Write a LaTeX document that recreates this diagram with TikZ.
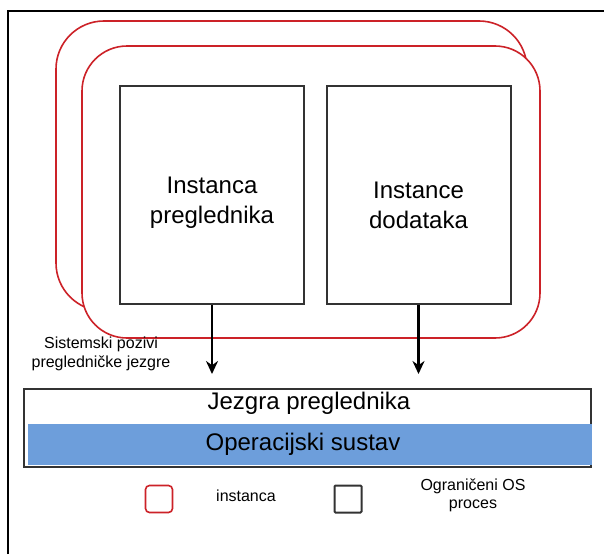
\documentclass[tikz,border=0pt]{standalone}
\usepackage{fontspec}
\setmainfont{Liberation Sans}
\usetikzlibrary{arrows.meta}
\definecolor{instred}{RGB}{204,34,40}
\definecolor{osblue}{RGB}{109,158,219}
\definecolor{procgray}{RGB}{51,51,51}

\begin{document}
\begin{tikzpicture}[x=1pt,y=-1pt,
    instbox/.style={draw=instred, line width=1.6pt},
    procbox/.style={draw=procgray, line width=2pt, minimum width=184pt, minimum height=218pt, inner sep=0pt},
    bigtext/.style={align=center, font=\fontsize{24}{30}\selectfont},
    callarrow/.style={line width=2.6pt, -{Stealth[length=13pt,width=12pt]}, shorten >=14pt},
    smalltext/.style={align=center, font=\fontsize{16}{19}\selectfont}]
    \useasboundingbox (0,0) rectangle (604,554);
    \draw[line width=2.2pt] (8,554) -- (8,11) -- (604,11);
    \draw[instbox, rounded corners=48pt] (56,21) rectangle (527,311);
    \draw[instbox, fill=white, rounded corners=45pt] (82,46) rectangle (540,338);
    \node[procbox] (browser) at (212,195) {};
    \node[procbox] (plugins) at (418.5,195) {};
    \node[bigtext, yshift=-8pt] (browsertext) at (browser) {Instanca\\preglednika};
    \node[bigtext, yshift=-10pt] (pluginstext) at (plugins) {Instance\\dodataka};
    \node[draw=procgray, line width=2pt, minimum width=567pt, minimum height=78pt, inner sep=0pt] (kernel) at (307.5,428) {};
    \node[fill=osblue, minimum width=564pt, minimum height=41pt, inner sep=0pt, font=\fontsize{24}{30}\selectfont] (os) at (310,444.5) {\hspace*{-14pt}Operacijski sustav};
    \node[bigtext] (kernellabel) at (309,403) {Jezgra preglednika};
    \draw[callarrow] (browser.south) -- (browser.south |- kernel.north);
    \draw[callarrow] (plugins.south) -- (plugins.south |- kernel.north);
    \node[smalltext] (calls) at (101,354) {Sistemski pozivi\\pregledničke jezgre};
    \node[instbox, rounded corners=4pt, minimum size=27pt, inner sep=0pt] (keyinst) at (159,499) {};
    \node[smalltext] (keyinstlabel) at (246,496) {instanca};
    \node[draw=procgray, line width=2pt, rounded corners=1pt, minimum size=27pt, inner sep=0pt] (keyproc) at (348,499) {};
    \node[smalltext, font=\fontsize{16}{18}\selectfont] (keyproclabel) at (473,495) {Ograničeni OS\\proces};
\end{tikzpicture}
\end{document}
